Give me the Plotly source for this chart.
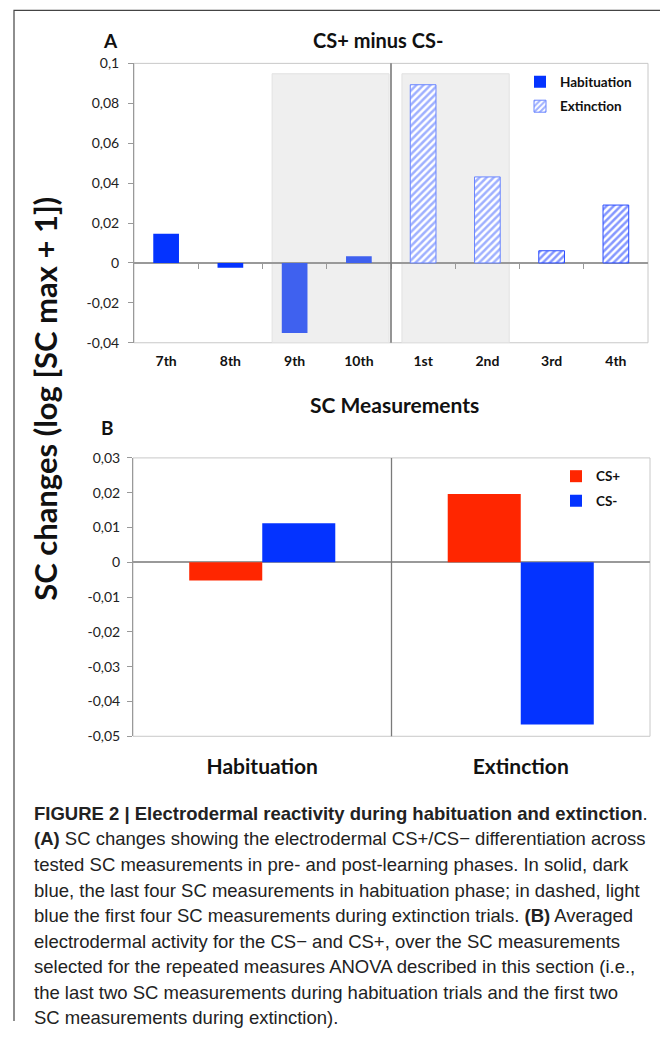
import plotly.graph_objects as go

# ---- data ----
measurements = ['7th', '8th', '9th', '10th', '1st', '2nd', '3rd', '4th']
hab_labels = ['7th', '8th', '9th', '10th']
hab_values = [0.0146, -0.0024, -0.0351, 0.0034]
ext_labels = ['1st', '2nd', '3rd', '4th']
ext_values = [0.0893, 0.0431, 0.0061, 0.0290]

phases = ['Habituation', 'Extinction']
cs_plus = [-0.0052, 0.0196]
cs_minus = [0.0112, -0.0466]

ticks_a = [-0.04, -0.02, 0, 0.02, 0.04, 0.06, 0.08, 0.1]
ticktext_a = ['-0,04', '-0,02', '0', '0,02', '0,04', '0,06', '0,08', '0,1']
ticks_b = [-0.05, -0.04, -0.03, -0.02, -0.01, 0, 0.01, 0.02, 0.03]
ticktext_b = ['-0,05', '-0,04', '-0,03', '-0,02', '-0,01', '0', '0,01', '0,02', '0,03']

caption = [
    '<b>FIGURE 2 | Electrodermal reactivity during habituation and extinction</b>.',
    '<b>(A)</b> SC changes showing the electrodermal CS+/CS\u2212 differentiation across',
    'tested SC measurements in pre- and post-learning phases. In solid, dark',
    'blue, the last four SC measurements in habituation phase; in dashed, light',
    'blue the first four SC measurements during extinction trials. <b>(B)</b> Averaged',
    'electrodermal activity for the CS\u2212 and CS+, over the SC measurements',
    'selected for the repeated measures ANOVA described in this section (i.e.,',
    'the last two SC measurements during habituation trials and the first two',
    'SC measurements during extinction).',
]

# figure size and the offset/scale the page adds round it (found by trial)
W, H = 652, 1021
OFF_X, OFF_Y, SCALE_Y = 8, 17, 0.982
FONT = 'Lato'
DARK_BLUE = '#0433ff'
LIGHT_BLUE = '#3f61ef'
RED = '#ff2600'


def px(x):
    return (x - OFF_X) / W


def py(y):
    return 1 - (y / SCALE_Y - OFF_Y) / H


dom_a_x = [px(134), px(648)]
dom_a_y = [py(342), py(63)]
dom_b_x = [px(133), px(650)]
dom_b_y = [py(735), py(457)]
range_a = [-0.04, 0.1]
range_b = [-0.05, 0.03]

fig = go.Figure()

# panel A
fig.add_trace(go.Bar(
    x=hab_labels, y=hab_values, name='Habituation', width=0.4, legendgroup='h',
    marker=dict(color=[DARK_BLUE, DARK_BLUE, LIGHT_BLUE, LIGHT_BLUE], line=dict(width=0)),
    xaxis='x', yaxis='y', legend='legend',
))
fig.add_trace(go.Bar(
    x=ext_labels, y=ext_values, name='Extinction', width=0.4, legendgroup='e',
    marker=dict(
        color='white',
        line=dict(color=['#6a86ff', '#6a86ff', '#2a4cff', '#2a4cff'], width=1),
        pattern=dict(shape='/', size=5, solidity=0.5, bgcolor='white',
                     fgcolor=['#3f62ff', '#3f62ff', '#0c30ff', '#0c30ff']),
    ),
    xaxis='x', yaxis='y', legend='legend',
))
# empty trace so the zero-line tick axis is drawn
fig.add_trace(go.Scatter(x=[None], y=[None], xaxis='x3', yaxis='y',
                         showlegend=False, hoverinfo='skip'))

# panel B
fig.add_trace(go.Bar(x=phases, y=cs_plus, name='CS+', legendgroup='p',
                     marker=dict(color=RED, line=dict(width=0)),
                     xaxis='x2', yaxis='y2', legend='legend2'))
fig.add_trace(go.Bar(x=phases, y=cs_minus, name='CS-', legendgroup='m',
                     marker=dict(color=DARK_BLUE, line=dict(width=0)),
                     xaxis='x2', yaxis='y2', legend='legend2'))

tickfont = dict(family=FONT, size=14, color='#222')

zero_pos = dom_a_y[0] + (0 - range_a[0]) / (range_a[1] - range_a[0]) * (dom_a_y[1] - dom_a_y[0])

fig.update_layout(
    width=W, height=H,
    margin=dict(l=0, r=0, t=0, b=0),
    paper_bgcolor='white', plot_bgcolor='white',
    barmode='group', bargap=0.435, bargroupgap=0,
    xaxis=dict(domain=dom_a_x, anchor='y', type='category',
               categoryorder='array', categoryarray=measurements,
               range=[-0.5, len(measurements) - 0.5],
               showline=False, ticks='', tickfont=dict(family=FONT, size=14, color='#111', weight='bold'),
               ticklabelstandoff=8, showgrid=False),
    xaxis3=dict(overlaying='x', anchor='free', position=zero_pos, type='linear',
                range=[-0.5, len(measurements) - 0.5],
                tickvals=[i + 0.5 for i in range(len(measurements) - 1)],
                ticks='outside', ticklen=5, tickcolor='#999', showticklabels=False,
                showline=False, showgrid=False, zeroline=False),
    yaxis=dict(domain=dom_a_y, anchor='x', range=range_a,
               tickvals=ticks_a, ticktext=ticktext_a, tickfont=tickfont,
               ticks='outside', ticklen=5, tickcolor='#999',
               showline=True, linecolor='#999', linewidth=1, mirror=False,
               showgrid=False, zeroline=True, zerolinecolor='#999', zerolinewidth=1.5,
               ticklabelstandoff=6),
    xaxis2=dict(domain=dom_b_x, anchor='y2', type='category',
                showline=False, ticks='', showgrid=False,
                tickfont=dict(family=FONT, size=21, color='#111', weight='bold'),
                ticklabelstandoff=16),
    yaxis2=dict(domain=dom_b_y, anchor='x2', range=range_b,
                tickvals=ticks_b, ticktext=ticktext_b, tickfont=tickfont,
                ticks='outside', ticklen=5, tickcolor='#999',
                showline=True, linecolor='#999', linewidth=1,
                showgrid=False, zeroline=True, zerolinecolor='#999', zerolinewidth=1.5,
                ticklabelstandoff=4),
    legend=dict(x=px(520), y=py(66), xanchor='left', yanchor='top',
                bgcolor='rgba(0,0,0,0)', font=dict(family=FONT, size=13.5, color='#111', weight='bold'),
                itemclick=False, tracegroupgap=4),
    legend2=dict(x=px(556), y=py(460), xanchor='left', yanchor='top',
                 bgcolor='rgba(0,0,0,0)', font=dict(family=FONT, size=13.5, color='#111', weight='bold'),
                 itemclick=False, tracegroupgap=4),
)

shapes = []
# shaded measurement blocks in panel A
for x0, x1 in [(1.65, 3.47), (3.67, 5.34)]:
    shapes.append(dict(type='rect', xref='x', yref='y', x0=x0, x1=x1, y0=range_a[0], y1=0.0948,
                       fillcolor='#efefef', line=dict(color='#e2e2e2', width=1), layer='below'))
# light plot borders
for xd, yd in [('x', 'y'), ('x2', 'y2')]:
    shapes.append(dict(type='rect', xref=xd + ' domain', yref=yd + ' domain', x0=0, x1=1, y0=0, y1=1,
                       line=dict(color='#c8c8c8', width=1), layer='below'))
# phase dividers
shapes.append(dict(type='line', xref='x', yref='y domain', x0=3.5, x1=3.5, y0=0, y1=1,
                   line=dict(color='#7a7a7a', width=1.6)))
shapes.append(dict(type='line', xref='x2', yref='y2 domain', x0=0.5, x1=0.5, y0=0, y1=1,
                   line=dict(color='#7a7a7a', width=1.3)))
# figure frame: left, top and right edges only (open at the bottom)
fl, fr, ft = px(14), px(666), py(10)
shapes.append(dict(type='path', xref='paper', yref='paper',
                   path=f'M {fl} 0 L {fl} {ft} L {fr} {ft} L {fr} 0',
                   line=dict(color='#444', width=1.2)))
fig.update_layout(shapes=shapes)

ann = [
    dict(text='<b>A</b>', x=px(110), y=py(40), font=dict(family=FONT, size=19, color='#111')),
    dict(text='<b>CS+ minus CS-</b>', x=px(378), y=py(40), font=dict(family=FONT, size=20, color='#111')),
    dict(text='<b>SC Measurements</b>', x=px(394), y=py(404), font=dict(family=FONT, size=21, color='#111')),
    dict(text='<b>B</b>', x=px(107), y=py(427), font=dict(family=FONT, size=19, color='#111')),
    dict(text='<b>SC changes (log [SC max + 1])</b>', x=px(45), y=py(398), textangle=-90,
         font=dict(family=FONT, size=31, color='#111')),
]
for a in ann:
    a.update(xref='paper', yref='paper', showarrow=False, xanchor='center', yanchor='middle')

for i, line in enumerate(caption):
    ann.append(dict(text=line, x=px(32), y=py(812 + i * 25.5), xref='paper', yref='paper',
                    xanchor='left', yanchor='middle', showarrow=False,
                    font=dict(family='Liberation Sans', size=18.5, color='#222')))
fig.update_layout(annotations=ann)

fig.write_html("out.html")
